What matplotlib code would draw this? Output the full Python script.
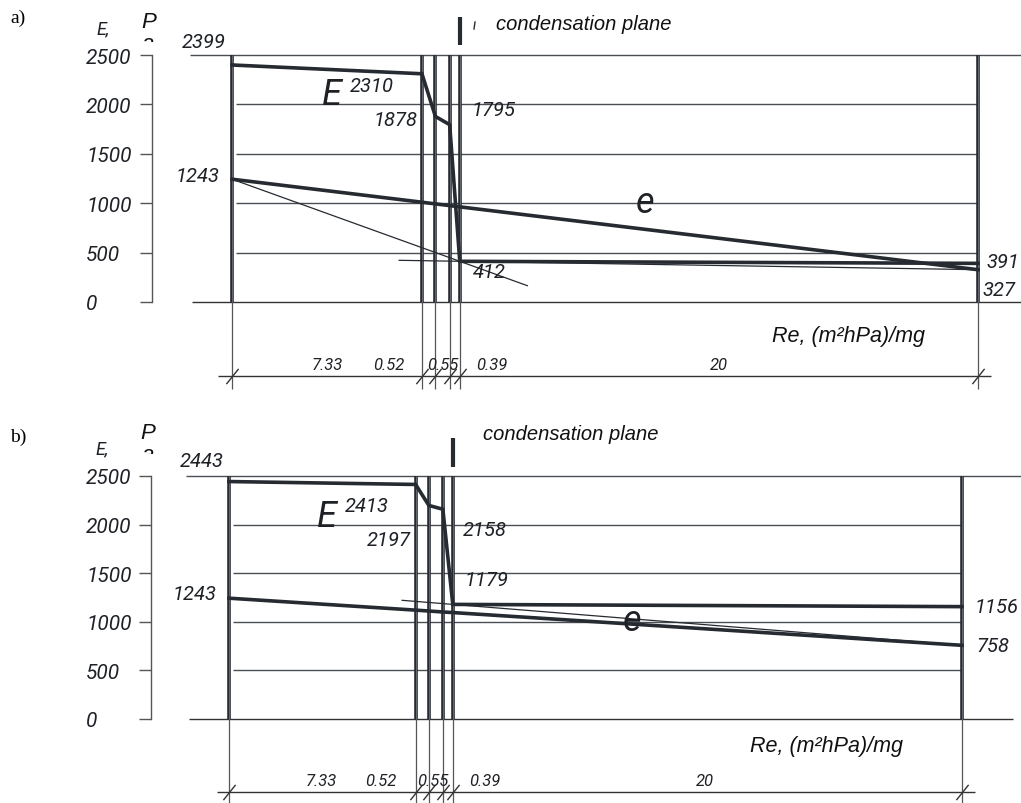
import matplotlib
matplotlib.use('Agg')
import matplotlib.pyplot as plt
from matplotlib.path import Path
from matplotlib.transforms import Bbox

# ---------------- data ----------------
layer_resistance = [7.33, 0.52, 0.55, 0.39, 20]
layer_labels = ['7.33', '0.52', '0.55', '0.39', '20']
pressure_ticks = [0, 500, 1000, 1500, 2000, 2500]
pressure_tick_labels = ['0', '500', '1000', '1500', '2000', '2500']

# saturation pressure E and partial pressure e at layer boundaries (Pa)
E_a = [2399, 2310, 1878, 1795, 412, 391]
e_a = [1243, 1010, 993, 976, 963, 327]
E_b = [2443, 2413, 2197, 2158, 1179, 1156]
e_b = [1243, 1120, 1111, 1101, 1095, 758]

# thin construction lines (Re, p)
tangent_a_re = [0, 11.4]
tangent_a_p = [1243, 165]
cond_a_re = [6.45, 28.79]
cond_a_p = [422, 327]
cond_b_re = [6.8, 28.79]
cond_b_p = [1221, 758]

W, H = 1021, 804
DARK = '#262a31'
GRID = '#4a4d52'
TXT = '#1e2126'
NUM = dict(family=['Roboto', 'DejaVu Sans'], style='italic', weight='normal')
SANS = dict(family=['Liberation Sans', 'DejaVu Sans'], style='italic')

bounds = [0.0]
for r in layer_resistance:
    bounds.append(round(bounds[-1] + r, 2))
total = bounds[-1]

fig = plt.figure(figsize=(W / 100, H / 100), dpi=100)


def ftxt(px, py, s, **kw):
    return fig.text(px / W, 1 - py / H, s, **kw)


def draw_panel(cfg, E, e, extra_lines, ann):
    x0, x1, yt, yb = cfg['x0'], cfg['x1'], cfg['ytop'], cfg['ybot']
    ax = fig.add_axes([x0 / W, 1 - yb / H, (x1 - x0) / W, (yb - yt) / H])
    ax.set_xlim(0, total)
    ax.set_ylim(0, 2500)
    ax.patch.set_alpha(0)
    sx = (x1 - x0) / total
    sy = (yb - yt) / 2500.0
    px2x = lambda px: (px - x0) / sx
    py2y = lambda py: (yb - py) / sy

    for s in ['top', 'right', 'bottom']:
        ax.spines[s].set_visible(False)
    ax.spines['left'].set_position(('outward', (x0 - cfg['axis_px']) * 0.72))
    ax.spines['left'].set_color('#555555')
    ax.spines['left'].set_linewidth(1.0)
    ax.set_xticks([])
    ax.set_yticks(pressure_ticks)
    ax.set_yticklabels(pressure_tick_labels, fontsize=15, ha='left', **NUM)
    ax.tick_params(axis='y', direction='out', length=12 * 0.72, width=1.0,
                   color='#555555', labelcolor=TXT,
                   pad=(cfg['axis_px'] - 12 - 86) * 0.72)

    # grid lines
    ax.hlines(pressure_ticks[1:-1], px2x(x0 + 4), total, color=GRID, lw=1.0,
              clip_on=False, zorder=1)
    ax.hlines([2500], px2x(cfg['top_from']), px2x(1021), color=GRID, lw=1.0,
              clip_on=False, zorder=1)
    ax.hlines([0], px2x(cfg['bot_from']), px2x(cfg['bot_to']), color='#333333',
              lw=1.0, clip_on=False, zorder=1)

    # walls
    ax.vlines(bounds, 0, 2500, color=DARK, lw=2.6, zorder=3, clip_on=False)
    ax.vlines(bounds, 0, 2500, color='#7d8187', lw=0.5, zorder=3.1, clip_on=False)

    # condensation plane marker
    ax.vlines([bounds[4]], py2y(cfg['bar'][1]), py2y(cfg['bar'][0]),
              color=DARK, lw=3.0, clip_on=False, zorder=3)

    # E and e curves
    ax.plot(bounds, e, color=DARK, lw=2.6, zorder=4, solid_joinstyle='miter',
            clip_on=False)
    ax.plot(bounds, E, color=DARK, lw=2.6, zorder=4, solid_joinstyle='miter',
            clip_on=False)
    for xs, ys in extra_lines:
        ax.plot(xs, ys, color=DARK, lw=0.9, zorder=4, clip_on=False)

    # dimension line
    yd = py2y(cfg['dim_y'])
    ax.hlines([yd], px2x(cfg['dim_from']), px2x(cfg['dim_to']), color='#333333',
              lw=1.0, clip_on=False)
    ax.vlines(bounds, 0, py2y(cfg['ext_to']), color='#555555', lw=0.9,
              clip_on=False)
    slash = Path([(-0.8, -1), (0.8, 1)], [Path.MOVETO, Path.LINETO])
    ax.plot(bounds, [yd] * len(bounds), linestyle='none', marker=slash,
            ms=11, mew=1.0, mec='#333333', clip_on=False)
    for lab, cx in zip(layer_labels, cfg['dim_lab_x']):
        ftxt(cx, cfg['dim_y'] - 11, lab, fontsize=12, ha='center', va='center',
             color=TXT, **NUM)

    # value labels
    for s, (px, py) in ann:
        ftxt(px, py, s, fontsize=14.5, ha='left', va='center', color=TXT, **NUM)
    ftxt(cfg['E_pos'][0], cfg['E_pos'][1], 'E', fontsize=26, ha='left',
         va='center', color=TXT, **NUM)
    ftxt(cfg['e_pos'][0], cfg['e_pos'][1], 'e', fontsize=26, ha='left',
         va='center', color=TXT, **NUM)

    # axis titles
    ftxt(cfg['Ecomma'][0], cfg['Ecomma'][1], 'E,', fontsize=13, ha='left',
         va='center', color=TXT, **NUM)
    ftxt(cfg['P'][0], cfg['P'][1], 'P', fontsize=16, ha='left', va='center',
         color='#111111', **SANS)
    ta = ftxt(cfg['P'][0] + 1, cfg['P'][1] + 22, 'a', fontsize=16, ha='left',
              va='center', color='#111111', **SANS)
    cy = cfg['P'][1] + 21
    ta.set_clip_box(Bbox.from_extents(0, (1 - cy / H) * H, W, H))
    ta.set_clip_on(True)
    ftxt(cfg['cond_txt'][0], cfg['cond_txt'][1], 'condensation plane',
         fontsize=14.5, ha='left', va='center', color='#111111', **SANS)
    ftxt(cfg['re_txt'][0], cfg['re_txt'][1], 'Re, (m²hPa)/mg', fontsize=15.5,
         ha='left', va='center', color='#111111', **SANS)
    ftxt(10, cfg['panel_lab_y'], cfg['panel_lab'], fontsize=14, ha='left',
         va='center', family=['Liberation Serif', 'DejaVu Serif'])
    return ax


cfg_a = dict(x0=232, x1=978, ytop=56, ybot=303, axis_px=152, top_from=190,
             bot_from=192, bot_to=1021, bar=(18, 46), dim_y=377, dim_from=218,
             dim_to=991, ext_to=390, dim_lab_x=[327, 389, 443, 492, 719],
             E_pos=(322, 95), e_pos=(636, 203), Ecomma=(96, 29), P=(141, 22),
             cond_txt=(496, 25), re_txt=(772, 337), panel_lab='a)',
             panel_lab_y=18)
ann_a = [(str(E_a[0]), (182, 42)), (str(E_a[1]), (350, 87)),
         (str(E_a[2]), (374, 120)), (str(E_a[3]), (472, 110)),
         (str(E_a[4]), (473, 273)), (str(E_a[5]), (986, 263)),
         (str(e_a[0]), (176, 177)), (str(e_a[5]), (982, 291))]

cfg_b = dict(x0=229, x1=962, ytop=477, ybot=720, axis_px=151, top_from=186,
             bot_from=189, bot_to=1013, bar=(439, 468), dim_y=793, dim_from=217,
             dim_to=975, ext_to=820, dim_lab_x=[321, 381, 433, 485, 705],
             E_pos=(317, 517), e_pos=(623, 621), Ecomma=(95, 449), P=(140, 434),
             cond_txt=(483, 435), re_txt=(750, 747), panel_lab='b)',
             panel_lab_y=437)
ann_b = [(str(E_b[0]), (180, 462)), (str(E_b[1]), (345, 507)),
         (str(E_b[2]), (367, 540)), (str(E_b[3]), (463, 530)),
         (str(E_b[4]), (465, 580)), (str(E_b[5]), (975, 608)),
         (str(e_b[0]), (173, 595)), (str(e_b[5]), (976, 647))]

ax_a = draw_panel(cfg_a, E_a, e_a,
                  [(tangent_a_re, tangent_a_p), (cond_a_re, cond_a_p)], ann_a)
ax_b = draw_panel(cfg_b, E_b, e_b, [(cond_b_re, cond_b_p)], ann_b)

# small stroke next to the condensation marker in panel a
fig.add_artist(plt.Line2D([475 / W, 474 / W], [1 - 23 / H, 1 - 30 / H],
                          color=DARK, lw=1.0))

fig.savefig('out.png', dpi=100, facecolor='white')
